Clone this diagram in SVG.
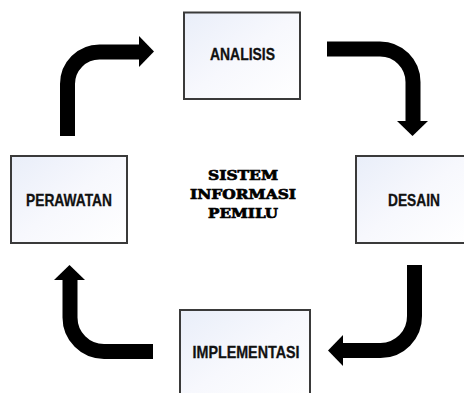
<svg xmlns="http://www.w3.org/2000/svg" width="464" height="393" viewBox="0 0 464 393">
  <style>
    .box { stroke: #3a3a3a; stroke-width: 2; fill: url(#boxFill); }
    .label { font-family: "Liberation Sans", Arial, sans-serif; font-weight: bold; font-size: 16.5px; fill: #111; stroke: #111; stroke-width: 0.3; text-anchor: middle; }
    .title { font-family: "DejaVu Serif", "Liberation Serif", serif; font-weight: bold; font-size: 13.5px; fill: #000; stroke: #000; stroke-width: 0.7; text-anchor: middle; }
    .shaft { fill: none; stroke: #000; stroke-width: 15; }
    .head { fill: #000; }
  </style>
  <defs>
    <linearGradient id="boxFill" x1="0" y1="0" x2="1" y2="1">
      <stop offset="0" stop-color="#e9eef9"/>
      <stop offset="0.5" stop-color="#f7f8fd"/>
      <stop offset="1" stop-color="#ffffff"/>
    </linearGradient>
  </defs>
  <rect width="464" height="393" fill="#ffffff"/>

  <g id="connectors">
    <!-- PERAWATAN to ANALISIS -->
    <path class="shaft" d="M67.5 136 V84 A32 32 0 0 1 99.5 52 H140"/>
    <polygon class="head" points="139,36 154,51.5 139,67"/>
    <!-- ANALISIS to DESAIN -->
    <path class="shaft" d="M327 49 H380 A33 33 0 0 1 413 82 V122"/>
    <polygon class="head" points="397,121 428,121 412.5,136"/>
    <!-- DESAIN to IMPLEMENTASI -->
    <path class="shaft" d="M414.5 265 V316 A34 34 0 0 1 380.5 350.5 H342"/>
    <polygon class="head" points="343,335 328,350.5 343,366"/>
    <!-- IMPLEMENTASI to PERAWATAN -->
    <path class="shaft" d="M153 351.5 H104 A34 34 0 0 1 70 317.5 V279"/>
    <polygon class="head" points="54,280 69.5,265 85,280"/>
  </g>

  <g id="analisis">
    <rect class="box" x="184" y="12.5" width="116" height="86.5"/>
    <text class="label" x="242.5" y="60" textLength="65" lengthAdjust="spacingAndGlyphs">ANALISIS</text>
  </g>

  <g id="desain">
    <rect class="box" x="356" y="156" width="112" height="87"/>
    <text class="label" x="414" y="206" textLength="52" lengthAdjust="spacingAndGlyphs">DESAIN</text>
  </g>

  <g id="implementasi">
    <rect class="box" x="180" y="310" width="130" height="90"/>
    <text class="label" x="246" y="358" textLength="107" lengthAdjust="spacingAndGlyphs">IMPLEMENTASI</text>
  </g>

  <g id="perawatan">
    <rect class="box" x="11" y="156" width="116" height="87"/>
    <text class="label" x="69" y="205.5" textLength="86" lengthAdjust="spacingAndGlyphs">PERAWATAN</text>
  </g>

  <g id="sistem-informasi-pemilu">
    <text class="title" x="243" y="180" textLength="70" lengthAdjust="spacingAndGlyphs">SISTEM</text>
    <text class="title" x="243" y="199" textLength="106" lengthAdjust="spacingAndGlyphs">INFORMASI</text>
    <text class="title" x="243" y="218" textLength="70" lengthAdjust="spacingAndGlyphs">PEMILU</text>
  </g>
</svg>
